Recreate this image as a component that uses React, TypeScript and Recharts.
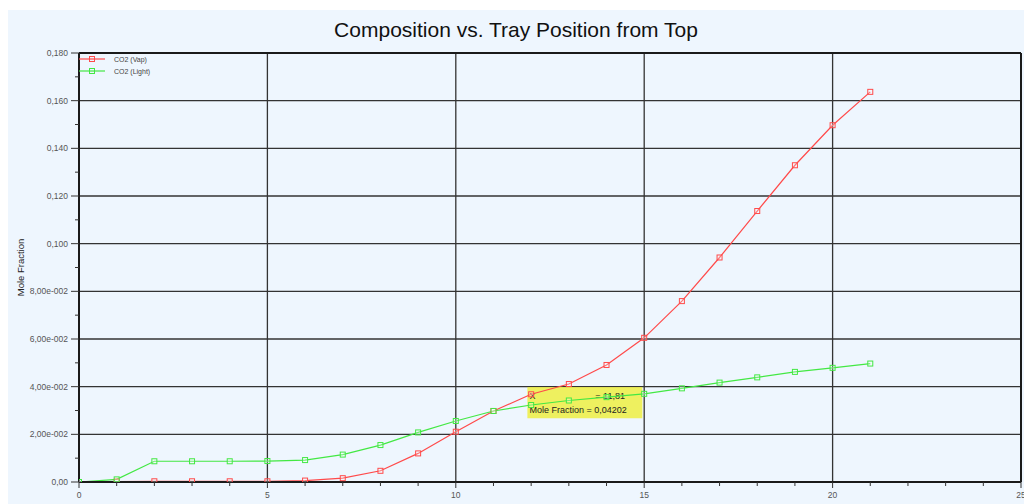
import React from "react";
import {
  LineChart,
  Line,
  XAxis,
  YAxis,
  CartesianGrid,
  ReferenceArea,
  ReferenceLine,
} from "recharts";

// Tray number counted from the top of the column
const trays = [0, 1, 2, 3, 4, 5, 6, 7, 8, 9, 10, 11, 12, 13, 14, 15, 16, 17, 18, 19, 20, 21];

// CO2 mole fraction in the vapour phase
const co2Vap = [
  0.0, 0.0002, 0.0003, 0.0003, 0.0003, 0.0003, 0.0006, 0.0016, 0.0047, 0.012, 0.0211,
  0.0298, 0.0368, 0.0411, 0.0491, 0.0605, 0.0759, 0.0942, 0.1137, 0.1329, 0.1497, 0.1637,
];

// CO2 mole fraction in the light liquid phase
const co2Light = [
  0.0, 0.0011, 0.0087, 0.0087, 0.0087, 0.0088, 0.0092, 0.0115, 0.0155, 0.0208, 0.0256,
  0.0298, 0.0323, 0.0342, 0.0356, 0.037, 0.0393, 0.0417, 0.0439, 0.0462, 0.0479, 0.0497,
];

// Axis ticks
const xTicks = [0, 1, 2, 3, 4, 5, 6, 7, 8, 9, 10, 11, 12, 13, 14, 15, 16, 17, 18, 19, 20, 21, 22, 23, 24, 25];
const xMajor = [0, 5, 10, 15, 20, 25];
const yTicks = [
  0, 0.01, 0.02, 0.03, 0.04, 0.05, 0.06, 0.07, 0.08, 0.09, 0.1, 0.11, 0.12, 0.13, 0.14, 0.15,
  0.16, 0.17, 0.18,
];
const yMajor = [0, 0.02, 0.04, 0.06, 0.08, 0.1, 0.12, 0.14, 0.16, 0.18];
const yMajorLabels = [
  "0,00", "2,00e-002", "4,00e-002", "6,00e-002", "8,00e-002",
  "0,100", "0,120", "0,140", "0,160", "0,180",
];

// Cursor readout
const cursorX = "11,81";
const cursorY = "0,04202";
const cursorBox = { x1: 11.9, x2: 14.95, y1: 0.0268, y2: 0.0399 };

const seriesNames = ["CO2 (Vap)", "CO2 (Light)"];
const RED = "#ff4a4a";
const GREEN = "#43e843";

const data = trays.map((t, i) => ({ tray: t, vap: co2Vap[i], light: co2Light[i] }));

const FONT = "'Liberation Sans', Arial, sans-serif";
const AXIS_DARK = "#1a1a1a";

const isMajor = (list: number[], v: number) => list.some((m) => Math.abs(m - v) < 1e-9);

const XTick = (props: any) => {
  const { x, y, payload } = props;
  const major = isMajor(xMajor, payload.value);
  return (
    <g>
      <line x1={x} x2={x} y1={y} y2={y + (major ? 6 : 4)} stroke="#333" strokeWidth={1} />
      {major && (
        <text x={x} y={y + 16} textAnchor="middle" fontSize={8.5} fill="#555" fontFamily={FONT}>
          {payload.value}
        </text>
      )}
    </g>
  );
};

const YTick = (props: any) => {
  const { x, y, payload } = props;
  const idx = yMajor.findIndex((m) => Math.abs(m - payload.value) < 1e-9);
  const major = idx >= 0;
  return (
    <g>
      <line x1={x - (major ? 8 : 4)} x2={x} y1={y} y2={y} stroke="#333" strokeWidth={1} />
      {major && (
        <text x={x - 11} y={y + 3} textAnchor="end" fontSize={8.5} fill="#555" fontFamily={FONT}>
          {yMajorLabels[idx]}
        </text>
      )}
    </g>
  );
};

const squareDot = (color: string) => (props: any) => {
  const { cx, cy, index } = props;
  if (cx == null || cy == null) return <g key={`d-${index}`} />;
  return (
    <rect
      key={`d-${index}`}
      x={cx - 2.5}
      y={cy - 2.5}
      width={5}
      height={5}
      fill="rgba(255,255,255,0.25)"
      stroke={color}
      strokeWidth={1}
    />
  );
};

const LegendBox = () => (
  <svg width={120} height={26} style={{ position: "absolute", left: 71, top: 43, display: "block" }}>
    {[RED, GREEN].map((c, i) => (
      <g key={c}>
        <line x1={0} x2={26} y1={6 + i * 12} y2={6 + i * 12} stroke={c} strokeWidth={1.2} />
        <rect x={10.5} y={3.5 + i * 12} width={5} height={5} fill="none" stroke={c} />
        <text x={35} y={9 + i * 12} fontSize={7} fill="#444" fontFamily={FONT}>
          {seriesNames[i]}
        </text>
      </g>
    ))}
  </svg>
);

const CursorLabel = (props: any) => {
  const { viewBox } = props;
  if (!viewBox) return null;
  const { x, y, width } = viewBox;
  return (
    <g fontFamily={FONT} fontSize={9} fill="#222">
      <text x={x + 2} y={y + 12}>X</text>
      <text x={x + width - 47} y={y + 12}>{`= ${cursorX}`}</text>
      <text x={x + 2} y={y + 26}>{`Mole Fraction = ${cursorY}`}</text>
    </g>
  );
};

export default function App() {
  return (
    <div style={{ position: "absolute", left: 0, top: 0, width: 1024, height: 504, background: "#ffffff", overflow: "hidden" }}>
      <div style={{ position: "absolute", left: 8, top: 10, width: 1016, height: 494, background: "#eef6fe" }}>
        <div
          style={{
            position: "absolute",
            left: 0,
            top: 8,
            width: 1016,
            textAlign: "center",
            fontFamily: FONT,
            fontSize: 21,
            color: "#111",
          }}
        >
          Composition vs. Tray Position from Top
        </div>
        <div style={{ position: "absolute", left: 0, top: 0 }}>
          <LineChart
            width={1016}
            height={494}
            data={data}
            margin={{ top: 43, right: 3, bottom: 0, left: 0 }}
          >
            <CartesianGrid
              stroke="#333333"
              strokeWidth={1.3}
              horizontalValues={yMajor}
              verticalValues={xMajor}
              fill="none"
            />
            <XAxis
              dataKey="tray"
              type="number"
              domain={[0, 25]}
              ticks={xTicks}
              interval={0}
              height={22}
              tickSize={0}
              tickMargin={0}
              tick={<XTick />}
              axisLine={{ stroke: AXIS_DARK, strokeWidth: 2 }}
              allowDataOverflow
            />
            <YAxis
              type="number"
              domain={[0, 0.18]}
              ticks={yTicks}
              interval={0}
              width={71}
              tickSize={0}
              tickMargin={0}
              tick={<YTick />}
              axisLine={{ stroke: AXIS_DARK, strokeWidth: 2 }}
              allowDataOverflow
              label={{
                value: "Mole Fraction",
                angle: -90,
                position: "insideLeft",
                offset: 13,
                style: { fontSize: 9.5, fill: "#222", fontFamily: FONT, textAnchor: "middle" },
              }}
            />
            <ReferenceLine y={0.18} stroke={AXIS_DARK} strokeWidth={2} />
            <ReferenceLine x={25} stroke={AXIS_DARK} strokeWidth={2} />
            <ReferenceArea
              x1={cursorBox.x1}
              x2={cursorBox.x2}
              y1={cursorBox.y1}
              y2={cursorBox.y2}
              fill="#eeee2a"
              fillOpacity={0.75}
              stroke="none"
              label={<CursorLabel />}
            />
            <Line
              dataKey="vap"
              stroke={RED}
              strokeWidth={1.2}
              dot={squareDot(RED)}
              activeDot={false}
              isAnimationActive={false}
            />
            <Line
              dataKey="light"
              stroke={GREEN}
              strokeWidth={1.2}
              dot={squareDot(GREEN)}
              activeDot={false}
              isAnimationActive={false}
            />
          </LineChart>
        </div>
        <LegendBox />
      </div>
    </div>
  );
}
